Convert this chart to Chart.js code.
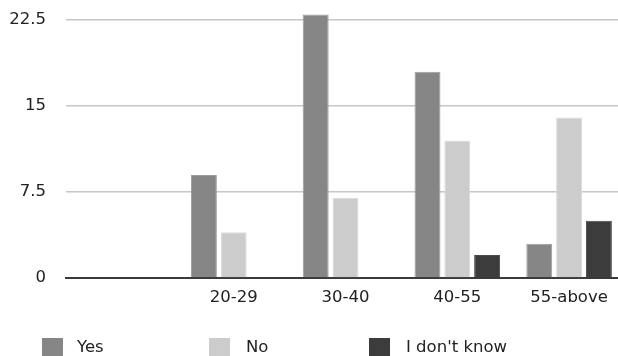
<!DOCTYPE html>
<html>
<head>
<meta charset="utf-8">
<script src="https://cdn.jsdelivr.net/npm/chart.js@4/dist/chart.umd.min.js"></script>
<style>
  html, body { margin: 0; padding: 0; background: #fff; overflow: hidden; }
  #wrap { width: 625px; height: 362px; }
</style>
</head>
<body>
<div id="wrap"><canvas id="c" width="625" height="362"></canvas></div>
<script>
const categories = ['', '20-29', '30-40', '40-55', '55-above'];
const seriesNames = ['Yes', 'No', "I don't know"];
const yesValues = [null, 9, 23, 18, 3];
const noValues = [null, 4, 7, 12, 14];
const dontKnowValues = [null, null, null, 2, 5];
const yTickValues = [0, 7.5, 15, 22.5];
const yTickLabels = ['0', '7.5', '15', '22.5'];

const FONT = '"DejaVu Sans", sans-serif';
const fills = ['#858685', '#cbcccb', '#3b3c3b'];
const borders = ['#9a9b9a', '#dadbda', '#4a4b4a'];

const legendPlugin = {
  id: 'customLegend',
  afterDraw(chart) {
    const ctx = chart.ctx;
    const boxX = [42, 209, 369];
    const textX = [77, 246, 406];
    ctx.save();
    ctx.font = '16.5px ' + FONT;
    ctx.textBaseline = 'middle';
    ctx.textAlign = 'left';
    chart.data.datasets.forEach((ds, i) => {
      ctx.fillStyle = ds.backgroundColor;
      ctx.fillRect(boxX[i], 338, 21, 20);
      ctx.fillStyle = '#222';
      ctx.fillText(ds.label, textX[i], 348);
    });
    ctx.restore();
  }
};

new Chart(document.getElementById('c'), {
  type: 'bar',
  data: {
    labels: categories,
    datasets: [
      { label: seriesNames[0], data: yesValues, backgroundColor: fills[0], borderColor: borders[0], borderWidth: 1 },
      { label: seriesNames[1], data: noValues, backgroundColor: fills[1], borderColor: borders[1], borderWidth: 1 },
      { label: seriesNames[2], data: dontKnowValues, backgroundColor: fills[2], borderColor: borders[2], borderWidth: 1 }
    ]
  },
  options: {
    responsive: false,
    animation: false,
    devicePixelRatio: 1,
    barPercentage: 0.87,
    categoryPercentage: 0.8,
    layout: { padding: { top: 3, right: 0, left: 0, bottom: 0 } },
    plugins: {
      legend: { display: false },
      tooltip: { enabled: false }
    },
    scales: {
      x: {
        grid: { display: false, drawTicks: false },
        border: { display: true, color: '#3a3a3a', width: 2 },
        ticks: { color: '#222', font: { family: FONT, size: 16.5 }, padding: 10, maxRotation: 0, autoSkip: false },
        afterFit(scale) { scale.height = 84; scale.paddingLeft = 0; scale.paddingRight = 0; }
      },
      y: {
        min: 0,
        max: 24,
        grid: { color: '#c6c6c6', lineWidth: 1.5, drawTicks: false },
        border: { display: false },
        ticks: {
          color: '#222',
          font: { family: FONT, size: 16.5 },
          padding: 20,
          callback(value) {
            const i = yTickValues.indexOf(value);
            return i >= 0 ? yTickLabels[i] : '';
          }
        },
        afterBuildTicks(scale) {
          scale.ticks = yTickValues.map(v => ({ value: v }));
        },
        afterFit(scale) { scale.width = 66; scale.paddingTop = 0; scale.paddingBottom = 0; }
      }
    }
  },
  plugins: [legendPlugin]
});
</script>
</body>
</html>
